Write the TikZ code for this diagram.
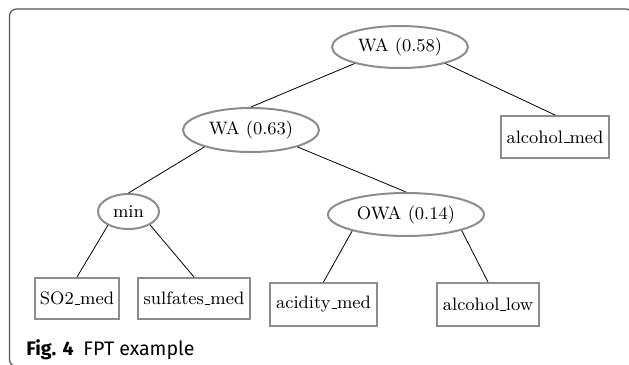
\documentclass[tikz,border=0pt]{standalone}
\usepackage{fontspec}
\usetikzlibrary{shapes.geometric}
\newfontfamily\capfont{Fira Sans}
\definecolor{nodegray}{RGB}{140,140,140}
\definecolor{framegray}{RGB}{85,85,85}
\newcommand{\usc}{\leavevmode\kern.06em\vbox{\hrule width.3em}}
\begin{document}
\begin{tikzpicture}[x=0.5pt,y=-0.5pt,
  every node/.style={font=\fontsize{9}{11}\selectfont, inner sep=0pt},
  opnode/.style={ellipse, draw=nodegray, line width=1pt},
  leafnode/.style={rectangle, draw=nodegray, line width=1pt},
  link/.style={draw=black, line width=0.4pt}]
\useasboundingbox (0,0) rectangle (629,365);
\draw[framegray, line width=0.6pt, rounded corners=3.5pt] (9.5,9) rectangle (633,366.5);

\node[opnode, minimum width=68pt, minimum height=21pt] (wa1) at (400,47) {WA (0.58)};
\node[opnode, minimum width=68pt, minimum height=22pt] (wa2) at (251,130) {WA (0.63)};
\node[leafnode, minimum width=54pt, minimum height=21pt] (am) at (555,137) {alcohol\usc med};
\node[opnode, minimum width=30.5pt, minimum height=17.5pt] (min) at (128.5,211.5) {min};
\node[opnode, minimum width=78pt, minimum height=21.5pt] (owa) at (406,214.5) {OWA (0.14)};
\node[leafnode, minimum width=42pt, minimum height=20.5pt] (so2) at (77,298.5) {SO2\usc med};
\node[leafnode, minimum width=56pt, minimum height=20.5pt] (sulf) at (194,298.5) {sulfates\usc med};
\node[leafnode, minimum width=53.5pt, minimum height=21.5pt] (acid) at (323.5,304.5) {acidity\usc med};
\node[leafnode, minimum width=51pt, minimum height=21.5pt] (alow) at (488,304.5) {alcohol\usc low};

\draw[link] (wa1.200) -- (wa2.north);
\draw[link] (wa1.340) -- (am.north);
\draw[link] (wa2.200) -- (min.north);
\draw[link] (wa2.340) -- (owa.north);
\draw[link] (min.214) -- (so2.north);
\draw[link] (min.328) -- (sulf.north);
\draw[link] (owa.197) -- (acid.north);
\draw[link] (owa.344) -- (alow.north);

\node[anchor=base west, font=\capfont\fontsize{9.8}{11}\selectfont] (cap) at (26,355) {\textbf{Fig. 4}\hspace{0.5em}FPT example};
\end{tikzpicture}
\end{document}
